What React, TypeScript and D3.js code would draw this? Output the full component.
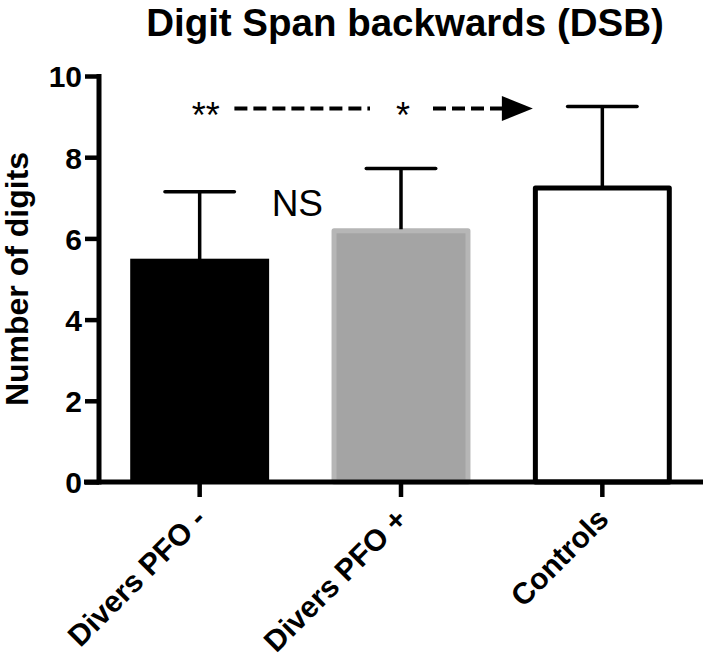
import React, { useEffect, useRef } from "react";
import * as d3 from "d3";

// values
const groups = ["Divers PFO -", "Divers PFO +", "Controls"];
const means = [5.5, 6.25, 7.3];
const sds = [1.65, 1.47, 1.95];
const yTicks = [0, 2, 4, 6, 8, 10];

// annotation levels (in data units)
const sigLevel = 9.2;
const nsLevel = 6.55;

const FONT = "'Liberation Sans', Arial, Helvetica, sans-serif";

const App = () => {
  const svgRef = useRef<SVGSVGElement>(null);

  useEffect(() => {
    const svg = d3.select(svgRef.current);
    svg.selectAll("*").remove();

    // scales
    const xScale = d3
      .scaleBand()
      .domain(groups)
      .range([99, 703])
      .paddingInner(0.31)
      .paddingOuter(0.155);

    const yScale = d3.scaleLinear().domain([0, 10]).range([482, 76]);

    const bw = xScale.bandwidth();
    const cx = (g: string) => (xScale(g) as number) + bw / 2;

    // title
    svg
      .append("text")
      .attr("x", 405)
      .attr("y", 36)
      .attr("text-anchor", "middle")
      .attr("font-family", FONT)
      .attr("font-weight", "bold")
      .attr("font-size", 38.5)
      .text("Digit Span backwards (DSB)");

    // y label
    svg
      .append("text")
      .attr("transform", `translate(28, ${(yScale(0) + yScale(10)) / 2}) rotate(-90)`)
      .attr("text-anchor", "middle")
      .attr("font-family", FONT)
      .attr("font-weight", "bold")
      .attr("font-size", 32)
      .text("Number of digits");

    // bars
    const styles = [
      { fill: "#000000", stroke: "#000000", sw: 0 },
      { fill: "#a4a4a4", stroke: "#b6b6b6", sw: 5 },
      { fill: "#ffffff", stroke: "#000000", sw: 5 },
    ];

    groups.forEach((g, i) => {
      const st = styles[i];
      const x0 = xScale(g) as number;
      const yTop = yScale(means[i]);
      const h = st.sw / 2;
      svg
        .append("rect")
        .attr("x", x0 + h)
        .attr("y", yTop + h)
        .attr("width", bw - st.sw)
        .attr("height", yScale(0) - yTop - h)
        .attr("fill", st.fill)
        .attr("stroke", st.stroke)
        .attr("stroke-width", st.sw)
        .attr("stroke-linejoin", "round");
    });

    // error bars (upper only)
    groups.forEach((g, i) => {
      const c = cx(g);
      const yTop = yScale(means[i]);
      const yErr = yScale(means[i] + sds[i]);
      const eg = svg.append("g").attr("stroke", "#000").attr("stroke-width", 3.5);
      eg.append("line").attr("x1", c).attr("x2", c).attr("y1", yTop + 1).attr("y2", yErr);
      eg.append("line")
        .attr("x1", c - bw / 4)
        .attr("x2", c + bw / 4)
        .attr("y1", yErr)
        .attr("y2", yErr)
        .attr("stroke-linecap", "round");
    });

    // axes
    const yAxis = d3
      .axisLeft(yScale)
      .tickValues(yTicks)
      .tickSize(14)
      .tickPadding(3)
      .tickSizeOuter(0);
    const yG = svg.append("g").attr("transform", `translate(99, 0)`).call(yAxis);
    yG.select(".domain").attr("stroke-width", 5).attr("d", `M0,${yScale(10) - 2}V${yScale(0) + 2.5}`);
    yG.selectAll(".tick line").attr("stroke-width", 4.5);
    yG.selectAll(".tick text")
      .attr("font-family", FONT)
      .attr("font-weight", "bold")
      .attr("font-size", 30)
      .attr("fill", "#000")
      .attr("dy", "0.36em");

    const xAxis = d3.axisBottom(xScale).tickSize(15).tickSizeOuter(0).tickFormat(() => "");
    const xG = svg.append("g").attr("transform", `translate(0, ${yScale(0)})`).call(xAxis);
    xG.select(".domain").attr("stroke-width", 5).attr("d", `M84,0H703`);
    xG.selectAll(".tick line").attr("stroke-width", 4.5);

    // rotated category labels
    groups.forEach((g) => {
      svg
        .append("text")
        .attr("transform", `translate(${cx(g) + 8}, 521) rotate(-45)`)
        .attr("text-anchor", "end")
        .attr("font-family", FONT)
        .attr("font-weight", "bold")
        .attr("font-size", 30)
        .text(g);
    });

    // significance annotation
    const ySig = yScale(sigLevel);
    const c0 = cx(groups[0]);
    const c1 = cx(groups[1]);
    const x2 = xScale(groups[2]) as number;
    const dash = svg
      .append("g")
      .attr("stroke", "#000")
      .attr("stroke-width", 4)
      .attr("stroke-dasharray", "13 6");
    dash.append("line").attr("x1", c0 + bw / 4).attr("x2", c1 - 31).attr("y1", ySig).attr("y2", ySig);
    dash.append("line").attr("x1", c1 + 32).attr("x2", x2 - 28).attr("y1", ySig).attr("y2", ySig);
    svg
      .append("path")
      .attr("d", `M${x2 - 31},${ySig - 12.5}L${x2},${ySig}L${x2 - 31},${ySig + 12.5}Z`)
      .attr("fill", "#000");

    const star = (x: number, t: string) =>
      svg
        .append("text")
        .attr("x", x)
        .attr("y", ySig + 20)
        .attr("text-anchor", "middle")
        .attr("font-family", FONT)
        .attr("font-size", 36)
        .text(t);
    star(c0 + 6, "**");
    star(c1 + 2, "*");

    // NS between the first two bars
    svg
      .append("text")
      .attr("x", ((xScale(groups[0]) as number) + bw + (xScale(groups[1]) as number)) / 2 - 3)
      .attr("y", yScale(nsLevel))
      .attr("text-anchor", "middle")
      .attr("font-family", FONT)
      .attr("font-size", 37)
      .text("NS");
  }, []);

  return (
    <svg
      ref={svgRef}
      width={709}
      height={655}
      style={{ position: "absolute", left: 0, top: 0, background: "#fff" }}
    ></svg>
  );
};

export default App;
